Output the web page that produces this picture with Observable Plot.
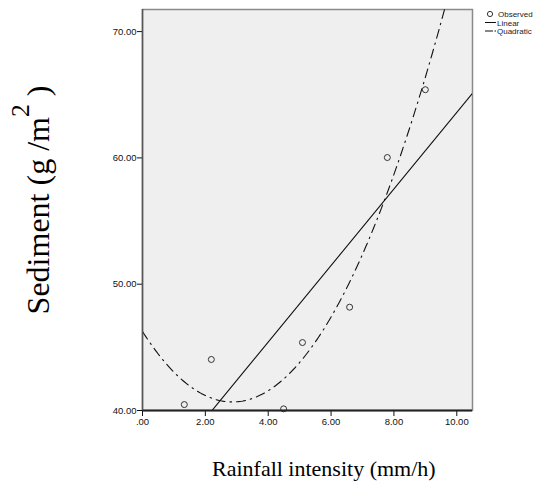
<!DOCTYPE html>
<html><head><meta charset="utf-8">
<script src="https://cdn.jsdelivr.net/npm/d3@7"></script>
<script src="https://cdn.jsdelivr.net/npm/@observablehq/plot@0.6"></script>
<style>
body{margin:0;background:#fff;}
#wrap{position:relative;width:538px;height:491px;}
.lab{position:absolute;font-family:"Liberation Serif","Times New Roman",serif;color:#000;white-space:nowrap;line-height:1;}
</style></head>
<body><div id="wrap"></div>
<script>
const rainfall = [1.33, 2.19, 4.49, 5.09, 6.59, 7.79, 9.0];
const sediment = [40.47, 44.04, 40.13, 45.38, 48.18, 60.03, 65.4];
const xTicks = [0, 2, 4, 6, 8, 10];
const yTicks = [40, 50, 60, 70];

const obs = rainfall.map((x, i) => ({x, y: sediment[i]}));

// least squares fits from the observed data
const n = obs.length;
const mx = d3.mean(rainfall), my = d3.mean(sediment);
const b1 = d3.sum(obs, d => (d.x - mx) * (d.y - my)) / d3.sum(obs, d => (d.x - mx) ** 2);
const b0 = my - b1 * mx;
const S = k => d3.sum(rainfall, x => x ** k);
const T = k => d3.sum(obs, d => d.x ** k * d.y);
const A = [[n, S(1), S(2)], [S(1), S(2), S(3)], [S(2), S(3), S(4)]];
const B = [T(0), T(1), T(2)];
function solve(A, B) {
  const M = A.map((r, i) => [...r, B[i]]);
  for (let i = 0; i < 3; i++) {
    for (let j = i + 1; j < 3; j++) {
      const f = M[j][i] / M[i][i];
      for (let k = i; k < 4; k++) M[j][k] -= f * M[i][k];
    }
  }
  const c = [0, 0, 0];
  for (let i = 2; i >= 0; i--) {
    let s = M[i][3];
    for (let k = i + 1; k < 3; k++) s -= M[i][k] * c[k];
    c[i] = s / M[i][i];
  }
  return c;
}
const q = solve(A, B);
const xs = d3.range(0, 10.5001, 0.05);
const linear = [0, 10.5].map(x => ({x, y: b0 + b1 * x}));
const quad = xs.map(x => ({x, y: q[0] + q[1] * x + q[2] * x * x}));

const fmt = d => d === 0 ? ".00" : d.toFixed(2);

const chart = Plot.plot({
  width: 538, height: 491,
  marginLeft: 142, marginRight: 66, marginTop: 9, marginBottom: 81,
  style: {fontFamily: "'Liberation Sans', Arial, sans-serif", fontSize: "9px", color: "#111", background: "white"},
  x: {domain: [0, 10.5], ticks: xTicks, tickFormat: fmt, label: null, tickSize: 6},
  y: {domain: [40, 71.75], ticks: yTicks, tickFormat: fmt, label: null, tickSize: 5},
  marks: [
    Plot.frame({fill: "#efefef", stroke: "#8a8a8a", strokeWidth: 1.5}),
    Plot.line(quad, {x: "x", y: "y", stroke: "#111", strokeWidth: 1.1, strokeDasharray: "9,5,1.5,5", clip: true}),
    Plot.line(linear, {x: "x", y: "y", stroke: "#111", strokeWidth: 1.1, clip: true}),
    Plot.dot(obs, {x: "x", y: "y", r: 3, stroke: "#333", strokeWidth: 1, fill: "none"}),
    Plot.axisX({ticks: xTicks, tickFormat: fmt, tickSize: 6, tickPadding: 2, fontSize: 9.5}),
    Plot.axisY({ticks: yTicks, tickFormat: fmt, tickSize: 5, tickPadding: 1, fontSize: 9.5}),
    Plot.ruleY([40], {stroke: "#222", strokeWidth: 2}),
    Plot.ruleX([0], {stroke: "#555", strokeWidth: 1.5})
  ]
});
const wrap = document.getElementById("wrap");
wrap.appendChild(chart);

function add(html, cls, css) {
  const d = document.createElement("div");
  d.className = cls; d.innerHTML = html; Object.assign(d.style, css); wrap.appendChild(d);
  return d;
}
add("Rainfall intensity (mm/h)", "lab", {left: "212px", top: "458px", fontSize: "22px"});
add("Sediment (g /m<span style='position:relative;top:-0.8em;font-size:0.8em'>2</span>&nbsp;)", "lab",
  {left: "38px", top: "200px", fontSize: "32px", transform: "translate(-50%,-50%) rotate(-90deg)"});

// legend
const lg = document.createElementNS("http://www.w3.org/2000/svg", "svg");
lg.setAttribute("width", 60); lg.setAttribute("height", 40);
Object.assign(lg.style, {position: "absolute", left: "482px", top: "6px"});
lg.innerHTML = `
<circle cx="8" cy="8" r="2.6" fill="none" stroke="#333"/>
<text x="16" y="11" font-size="8" font-family="Liberation Sans, Arial" fill="#222">Observed</text>
<line x1="3" x2="14" y1="16.5" y2="16.5" stroke="#111"/>
<text x="15" y="19.5" font-size="8" font-family="Liberation Sans, Arial" fill="#222">Linear</text>
<line x1="3" x2="14" y1="25" y2="25" stroke="#111" stroke-dasharray="8,1.5,1.5,1.5"/>
<text x="15" y="28" font-size="8" font-family="Liberation Sans, Arial" fill="#222">Quadratic</text>`;
wrap.appendChild(lg);
</script></body></html>
